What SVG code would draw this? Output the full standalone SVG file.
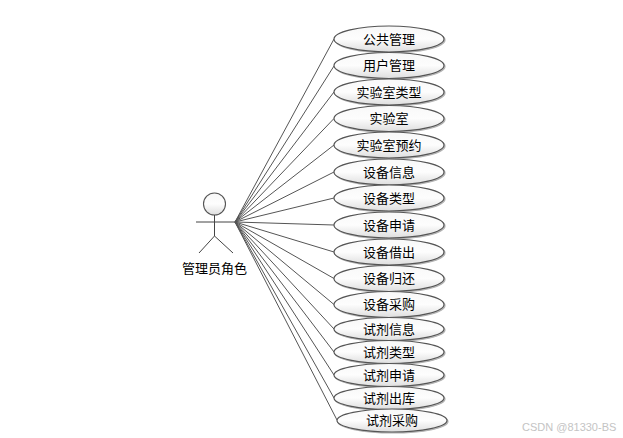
<svg xmlns="http://www.w3.org/2000/svg" width="623" height="438" viewBox="0 0 623 438">
<style>
text{font-family:"Noto Sans CJK SC","Liberation Sans",sans-serif;font-size:13px;fill:#000;text-anchor:middle}
.u ellipse{fill:url(#g);stroke:#555;stroke-width:1.2;filter:url(#s)}
#connectors line{stroke:#555;stroke-width:1}
#actor circle{fill:url(#g);stroke:#555;stroke-width:1.1}
#actor line{stroke:#444;stroke-width:1}
text.w{font-family:"Liberation Sans",sans-serif;font-size:11px;fill:#c4c4c4;text-anchor:start}
</style>
<defs>
<linearGradient id="g" x1="0" y1="0" x2="0" y2="1"><stop offset="0" stop-color="#f8f8f8"/><stop offset="0.5" stop-color="#fdfdfd"/><stop offset="1" stop-color="#dedede"/></linearGradient>
<filter id="s" x="-5%" y="-15%" width="112%" height="135%"><feDropShadow dx="1" dy="1" stdDeviation="0.7" flood-color="#000" flood-opacity="0.3"/></filter>
</defs>
<rect width="623" height="438" fill="#fff"/>
<g id="connectors">
<line x1="235" y1="222" x2="334" y2="39"/>
<line x1="235" y1="222" x2="334" y2="66"/>
<line x1="235" y1="222" x2="334" y2="92"/>
<line x1="235" y1="222" x2="334" y2="118.5"/>
<line x1="235" y1="222" x2="334" y2="145"/>
<line x1="235" y1="222" x2="334" y2="172"/>
<line x1="235" y1="222" x2="334" y2="198"/>
<line x1="235" y1="222" x2="334" y2="225"/>
<line x1="235" y1="222" x2="334" y2="252"/>
<line x1="235" y1="222" x2="334" y2="278.5"/>
<line x1="235" y1="222" x2="334" y2="304.5"/>
<line x1="235" y1="222" x2="334" y2="329"/>
<line x1="235" y1="222" x2="334" y2="352"/>
<line x1="235" y1="222" x2="334" y2="375"/>
<line x1="235" y1="222" x2="334" y2="398"/>
<line x1="235" y1="222" x2="337" y2="420"/>
</g>
<g id="actor">
<circle cx="214.5" cy="204" r="11"/>
<line x1="196" y1="222" x2="235" y2="222"/>
<line x1="214.5" y1="215" x2="214.5" y2="236"/>
<line x1="214.5" y1="236" x2="199" y2="253"/>
<line x1="214.5" y1="236" x2="233" y2="253"/>
<text x="214.5" y="273">管理员角色</text>
</g>
<g id="n1" class="u"><ellipse cx="389" cy="39" rx="55" ry="13"/><text x="389" y="44">公共管理</text></g>
<g id="n2" class="u"><ellipse cx="389" cy="65.5" rx="55" ry="13"/><text x="389" y="70">用户管理</text></g>
<g id="n3" class="u"><ellipse cx="389" cy="92" rx="55" ry="13"/><text x="389" y="97">实验室类型</text></g>
<g id="n4" class="u"><ellipse cx="389" cy="118.5" rx="55" ry="13"/><text x="389" y="123">实验室</text></g>
<g id="n5" class="u"><ellipse cx="389" cy="145" rx="55" ry="13"/><text x="389" y="150">实验室预约</text></g>
<g id="n6" class="u"><ellipse cx="389" cy="172" rx="55" ry="13"/><text x="389" y="177">设备信息</text></g>
<g id="n7" class="u"><ellipse cx="389" cy="198" rx="55" ry="13"/><text x="389" y="203">设备类型</text></g>
<g id="n8" class="u"><ellipse cx="389" cy="225" rx="55" ry="13"/><text x="389" y="230">设备申请</text></g>
<g id="n9" class="u"><ellipse cx="389" cy="252" rx="55" ry="13"/><text x="389" y="257">设备借出</text></g>
<g id="n10" class="u"><ellipse cx="389" cy="278.5" rx="55" ry="13"/><text x="389" y="283">设备归还</text></g>
<g id="n11" class="u"><ellipse cx="389" cy="304.5" rx="55" ry="13"/><text x="389" y="309">设备采购</text></g>
<g id="n12" class="u"><ellipse cx="389" cy="329" rx="55" ry="11.5"/><text x="389" y="334">试剂信息</text></g>
<g id="n13" class="u"><ellipse cx="389" cy="352" rx="55" ry="11.5"/><text x="389" y="357">试剂类型</text></g>
<g id="n14" class="u"><ellipse cx="389" cy="375" rx="55" ry="11.5"/><text x="389" y="380">试剂申请</text></g>
<g id="n15" class="u"><ellipse cx="389" cy="398" rx="55" ry="11.5"/><text x="389" y="403">试剂出库</text></g>
<g id="n16" class="u"><ellipse cx="392" cy="420.5" rx="55" ry="11.5"/><text x="392" y="425">试剂采购</text></g>
<text class="w" x="522" y="431">CSDN @81330-BS</text>
</svg>
